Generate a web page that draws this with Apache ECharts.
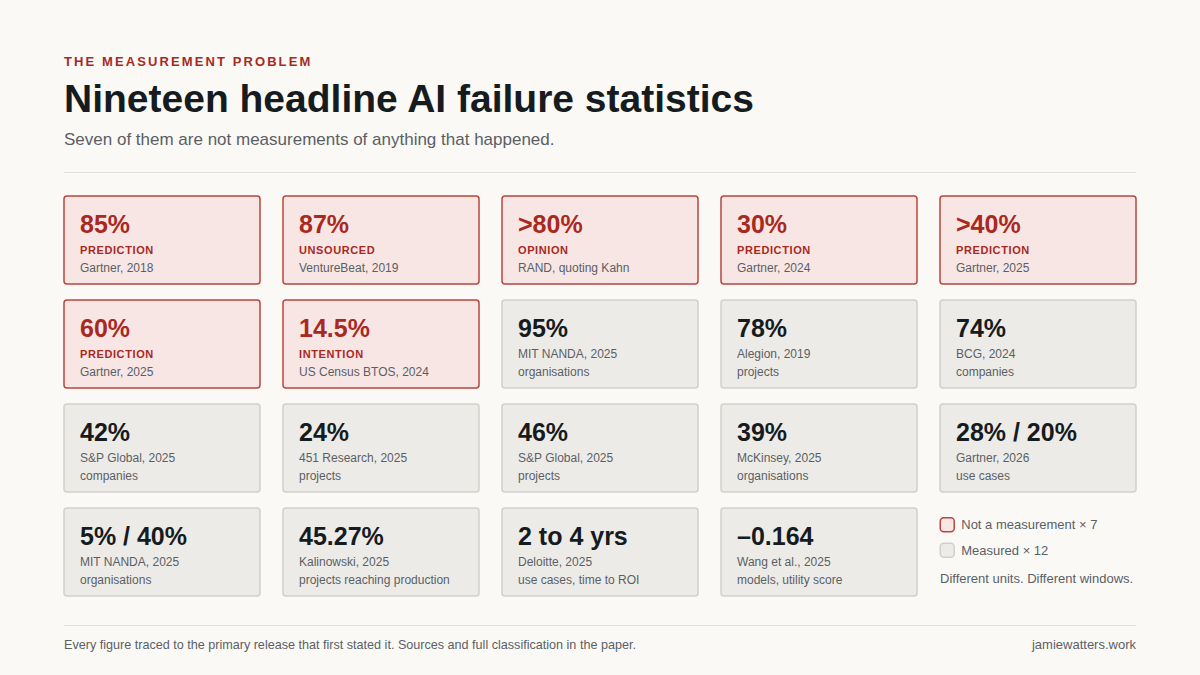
<!DOCTYPE html>
<html>
<head>
<meta charset="utf-8">
<script src="https://cdn.jsdelivr.net/npm/echarts@6/dist/echarts.min.js"></script>
<style>
  html, body { margin: 0; padding: 0; background: #faf9f6; }
  #chart { width: 1200px; height: 675px; }
</style>
</head>
<body>
<div id="chart"></div>
<script>
// headline figures, read left to right, top to bottom
const figures = ['85%', '87%', '>80%', '30%', '>40%',
  '60%', '14.5%', '95%', '78%', '74%',
  '42%', '24%', '46%', '39%', '28% / 20%',
  '5% / 40%', '45.27%', '2 to 4 yrs', '\u20130.164'];
// empty kind = an actual measurement
const kinds = ['PREDICTION', 'UNSOURCED', 'OPINION', 'PREDICTION', 'PREDICTION',
  'PREDICTION', 'INTENTION', '', '', '',
  '', '', '', '', '',
  '', '', '', ''];
const sources = ['Gartner, 2018', 'VentureBeat, 2019', 'RAND, quoting Kahn', 'Gartner, 2024', 'Gartner, 2025',
  'Gartner, 2025', 'US Census BTOS, 2024', 'MIT NANDA, 2025', 'Alegion, 2019', 'BCG, 2024',
  'S&P Global, 2025', '451 Research, 2025', 'S&P Global, 2025', 'McKinsey, 2025', 'Gartner, 2026',
  'MIT NANDA, 2025', 'Kalinowski, 2025', 'Deloitte, 2025', 'Wang et al., 2025'];
const units = ['', '', '', '', '',
  '', '', 'organisations', 'projects', 'companies',
  'companies', 'projects', 'projects', 'organisations', 'use cases',
  'organisations', 'projects reaching production', 'use cases, time to ROI', 'models, utility score'];
const columns = ['1', '2', '3', '4', '5'];
const rows = ['1', '2', '3', '4'];

const kicker = 'THE MEASUREMENT PROBLEM';
const title = 'Nineteen headline AI failure statistics';
const subtitle = 'Seven of them are not measurements of anything that happened.';
const note = 'Different units. Different windows.';
const footer = 'Every figure traced to the primary release that first stated it. Sources and full classification in the paper.';
const site = 'jamiewatters.work';

const FONT = "'Liberation Sans', Arial, Helvetica, sans-serif";
const RED = '#a8291f';
const DARK = '#161b20';
const GREY_TEXT = '#5a5f66';

const flagged = [];
const measured = [];
figures.forEach((f, i) => {
  const item = [i % columns.length, Math.floor(i / columns.length), i];
  (kinds[i] ? flagged : measured).push(item);
});
const flaggedName = 'Not a measurement \u00d7 ' + flagged.length;
const measuredName = 'Measured \u00d7 ' + measured.length;

function renderCard(params, api) {
  const i = api.value(2);
  const c = api.coord([api.value(0), api.value(1)]);
  const band = api.size([1, 1]);
  const w = band[0] - 23, h = band[1] - 16;
  const x = c[0] - w / 2, y = c[1] - h / 2;
  const isFlag = !!kinds[i];
  const children = [{
    type: 'rect',
    shape: { x: x, y: y, width: w, height: h, r: 3 },
    style: isFlag
      ? { fill: '#f8e6e4', stroke: '#b9463e', lineWidth: 1.5 }
      : { fill: '#edebe7', stroke: '#d3d0cb', lineWidth: 1.5 }
  }, {
    type: 'text',
    style: { text: figures[i], x: x + 16, y: y + 28, font: 'bold 25px ' + FONT,
      fill: isFlag ? RED : DARK, textVerticalAlign: 'middle' }
  }];
  if (isFlag) {
    children.push({ type: 'text', style: { text: kinds[i], x: x + 16, y: y + 54,
      font: 'bold 11px ' + FONT, fill: RED, textVerticalAlign: 'middle' } });
    children.push({ type: 'text', style: { text: sources[i], x: x + 16, y: y + 72,
      font: '12px ' + FONT, fill: GREY_TEXT, textVerticalAlign: 'middle' } });
  } else {
    children.push({ type: 'text', style: { text: sources[i], x: x + 16, y: y + 54,
      font: '12px ' + FONT, fill: GREY_TEXT, textVerticalAlign: 'middle' } });
    children.push({ type: 'text', style: { text: units[i], x: x + 16, y: y + 72,
      font: '12px ' + FONT, fill: GREY_TEXT, textVerticalAlign: 'middle' } });
  }
  return { type: 'group', children: children };
}

const chart = echarts.init(document.getElementById('chart'), null, { renderer: 'svg' });

// tracking for the small caps labels (SVG attribute, left alone by zrender)
function applyTracking() {
  document.querySelectorAll('#chart text').forEach(function (t) {
    const s = t.textContent;
    if (s === kicker) t.setAttribute('letter-spacing', '2.1px');
    else if (s && kinds.indexOf(s) >= 0) t.setAttribute('letter-spacing', '0.6px');
  });
}
chart.on('finished', applyTracking);

chart.setOption({
  backgroundColor: '#faf9f6',
  animation: false,
  grid: { left: 52.5, right: 52.5, top: 188, bottom: 71 },
  xAxis: { type: 'category', data: columns, show: false },
  yAxis: { type: 'category', data: rows, inverse: true, show: false },
  legend: {
    orient: 'vertical', left: 939.5, top: 517, padding: 0,
    itemWidth: 14, itemHeight: 14, itemGap: 10,
    icon: 'roundRect', selectedMode: false,
    textStyle: { fontFamily: FONT, fontSize: 13, lineHeight: 14, color: GREY_TEXT, padding: [0, 0, 0, 2] },
    data: [
      { name: flaggedName, itemStyle: { color: '#f8e6e4', borderColor: '#b9463e', borderWidth: 1.5 } },
      { name: measuredName, itemStyle: { color: '#edebe7', borderColor: '#d3d0cb', borderWidth: 1.5 } }
    ]
  },
  graphic: [
    { type: 'text', left: 64, top: 55, style: { text: kicker, font: 'bold 13px ' + FONT, fill: RED } },
    { type: 'text', left: 64, top: 79, style: { text: title, font: 'bold 39px ' + FONT, fill: DARK } },
    { type: 'text', left: 64, top: 131, style: { text: subtitle, font: '17px ' + FONT, fill: GREY_TEXT } },
    { type: 'line', shape: { x1: 64, y1: 172.5, x2: 1136, y2: 172.5 }, style: { stroke: '#e2e0db', lineWidth: 1 } },
    { type: 'text', left: 940, top: 572, style: { text: note, font: '13px ' + FONT, fill: GREY_TEXT } },
    { type: 'line', shape: { x1: 64, y1: 625.5, x2: 1136, y2: 625.5 }, style: { stroke: '#e2e0db', lineWidth: 1 } },
    { type: 'text', left: 64, top: 638, style: { text: footer, font: '12.6px ' + FONT, fill: GREY_TEXT } },
    { type: 'text', right: 64, top: 638, style: { text: site, font: '13px ' + FONT, fill: GREY_TEXT } }
  ],
  series: [
    { type: 'custom', name: flaggedName, renderItem: renderCard, data: flagged, silent: true,
      itemStyle: { color: '#f8e6e4' } },
    { type: 'custom', name: measuredName, renderItem: renderCard, data: measured, silent: true,
      itemStyle: { color: '#edebe7' } }
  ]
});

applyTracking();
setTimeout(applyTracking, 0);
setTimeout(applyTracking, 200);
</script>
</body>
</html>
